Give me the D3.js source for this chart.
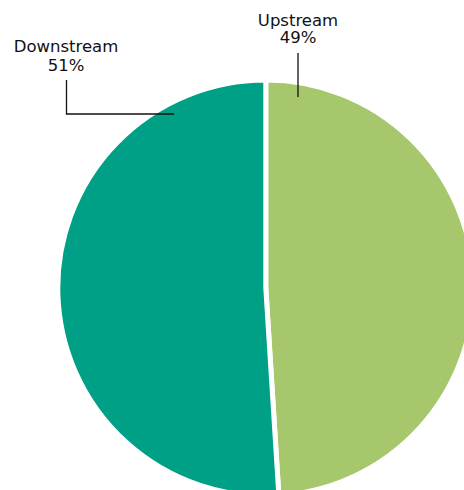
<!DOCTYPE html>
<html>
<head>
<meta charset="utf-8">
<script src="https://cdn.jsdelivr.net/npm/d3@7/dist/d3.min.js"></script>
<style>
  html, body { margin: 0; padding: 0; background: #fff; overflow: hidden; }
  svg { display: block; }
  text { font-family: "DejaVu Sans", sans-serif; fill: #111; }
</style>
</head>
<body>
<svg id="chart" width="464" height="490"></svg>
<script>
// Share of emissions by segment
const categories = ["Upstream", "Downstream"];
const shares = [49, 51];
const colors = ["#a6c76c", "#00a086"];

const svg = d3.select("#chart");
const cx = 265.8, cy = 288, radius = 208;

const pie = d3.pie().sort(null).value(d => d.value);
const arcs = pie(categories.map((c, i) => ({ name: c, value: shares[i], color: colors[i] })));
const arc = d3.arc().innerRadius(0).outerRadius(radius);

const g = svg.append("g").attr("transform", `translate(${cx},${cy})`);
g.selectAll("path")
  .data(arcs)
  .join("path")
  .attr("d", arc)
  .attr("fill", d => d.data.color)
  .attr("stroke", "#fff")
  .attr("stroke-width", 5)
  .attr("stroke-linejoin", "miter");

// Label placement: text anchor point and leader polyline for each slice
const labels = [
  { name: "Upstream", x: 298, y1: 26, y2: 43, leader: [[298, 53], [298, 97]] },
  { name: "Downstream", x: 66, y1: 52, y2: 71, leader: [[66.5, 80], [66.5, 114], [174, 114]] }
];

labels.forEach(l => {
  const d = arcs.find(a => a.data.name === l.name);
  const t = svg.append("text").attr("text-anchor", "middle").attr("font-size", 16.5);
  t.append("tspan").attr("x", l.x).attr("y", l.y1).text(l.name);
  t.append("tspan").attr("x", l.x).attr("y", l.y2).text(d.data.value + "%");
  svg.append("path")
    .attr("d", d3.line()(l.leader))
    .attr("fill", "none")
    .attr("stroke", "#111")
    .attr("stroke-width", 1.3);
});
</script>
</body>
</html>
